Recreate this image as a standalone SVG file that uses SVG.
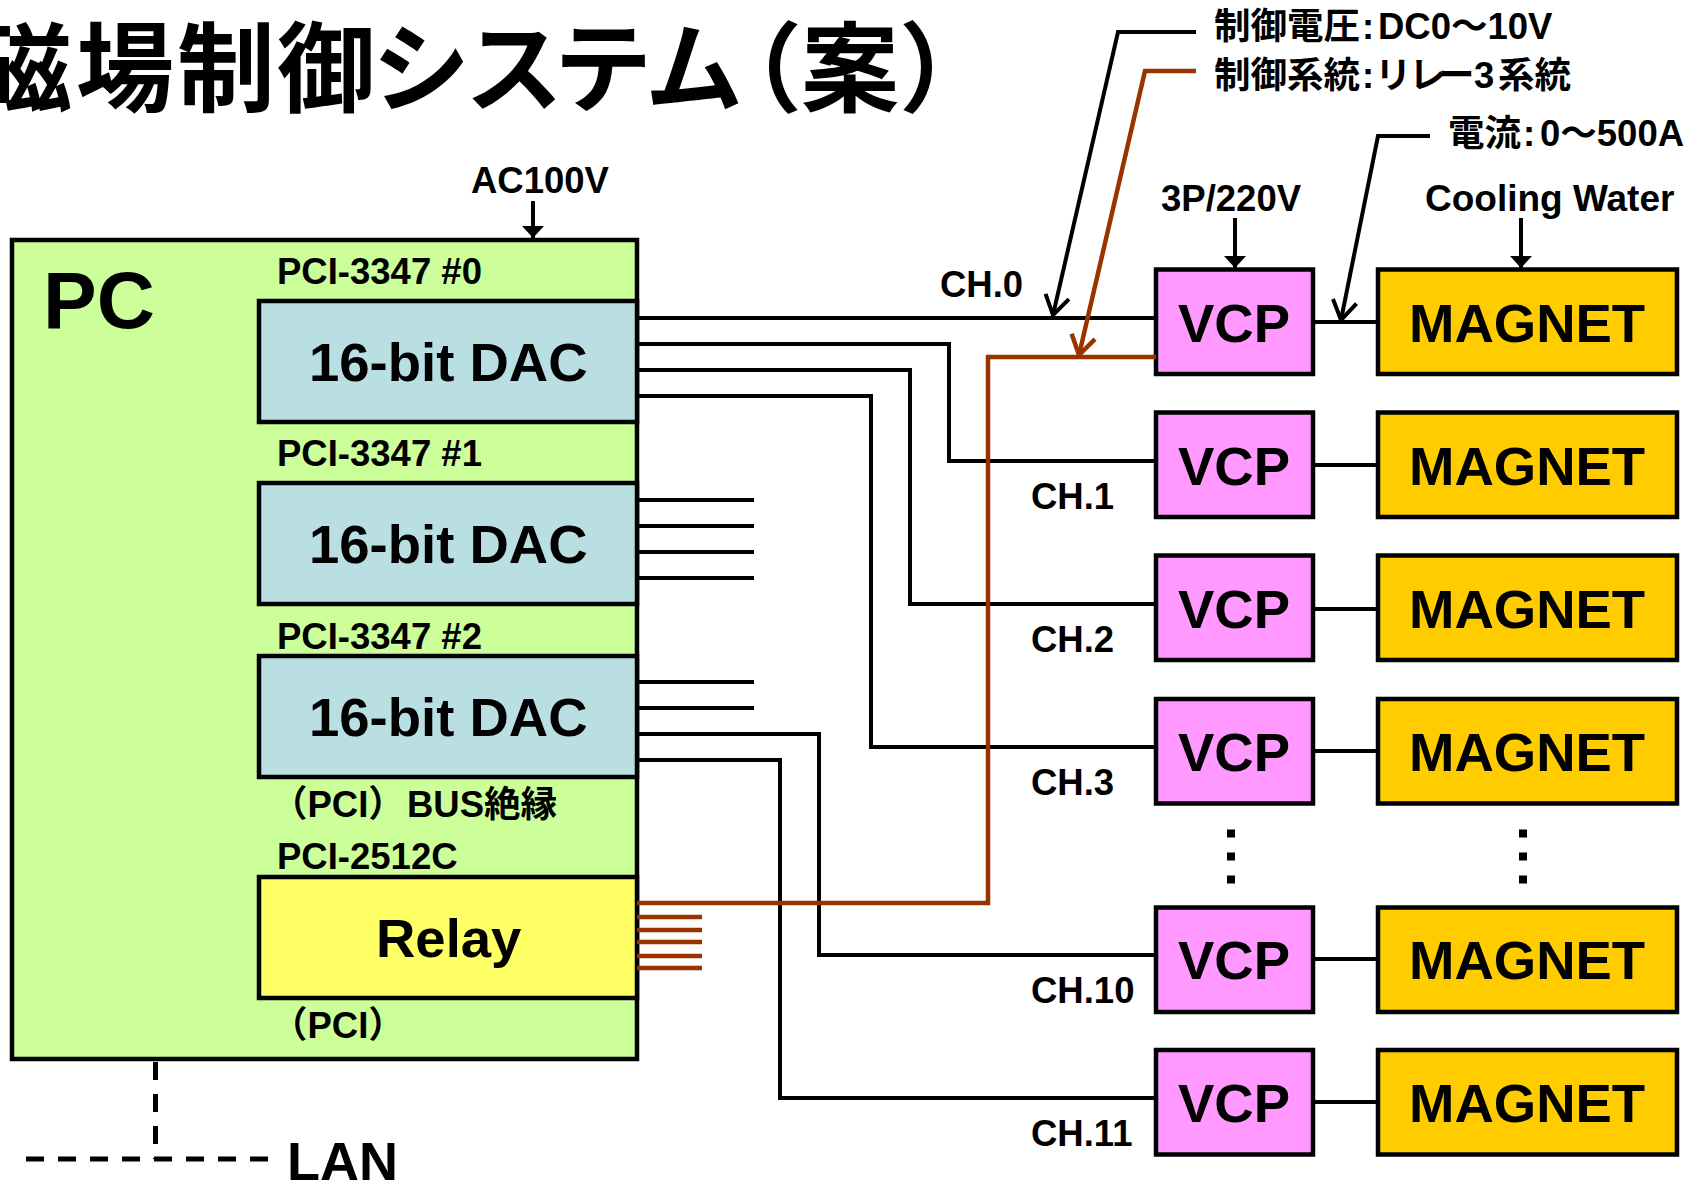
<svg xmlns="http://www.w3.org/2000/svg" width="1698" height="1184" viewBox="0 0 1698 1184">
<style>
text{font-family:"Liberation Sans","Noto Sans CJK JP",sans-serif;font-weight:700;fill:#000}
.s{font-size:36.5px}
.l{font-size:54.5px}
.box{stroke:#000;stroke-width:4.5}
.pc{fill:#CCFF99}.dac{fill:#B9DFE3}.relay{fill:#FFFF66}.vcp{fill:#FF99FF}.mag{fill:#FFCC00}
.w{fill:none;stroke:#000;stroke-width:4}
.r{fill:none;stroke:#993300;stroke-width:4.5}
.in{marker-end:url(#tri)}
.d{fill:none;stroke:#000;stroke-width:5;stroke-dasharray:18 14}
.dot{fill:#000}
</style>
<defs>
<marker id="tri" markerUnits="userSpaceOnUse" markerWidth="24" markerHeight="22" refX="12" refY="11" orient="auto"><path d="M0 0L12 11L0 22Z" fill="#000"/></marker>
<marker id="openK" markerUnits="userSpaceOnUse" markerWidth="26" markerHeight="32" refX="22" refY="16" orient="auto"><path d="M3 4L22 16L3 28" fill="none" stroke="#000" stroke-width="4"/></marker>
<marker id="openR" markerUnits="userSpaceOnUse" markerWidth="26" markerHeight="32" refX="22" refY="16" orient="auto"><path d="M3 4L22 16L3 28" fill="none" stroke="#993300" stroke-width="4.5"/></marker>
</defs>
<rect width="1698" height="1184" fill="#fff"/>
<text id="title" x="-26 76 177 277 372 465 554 645 704 801 899" y="104" font-size="98">磁場制御システム（案）</text>

<g id="pc"><rect class="box pc" x="12" y="240" width="625" height="819"/><text x="43" y="328" font-size="80.5">PC</text></g>
<g id="dac0"><text class="s" x="277" y="284">PCI-3347 #0</text><rect class="box dac" x="259" y="301" width="378" height="121"/><text class="l" x="309" y="381">16-bit DAC</text></g>
<g id="dac1"><text class="s" x="277" y="466">PCI-3347 #1</text><rect class="box dac" x="259" y="483" width="378" height="121"/><text class="l" x="309" y="563">16-bit DAC</text></g>
<g id="dac2"><text class="s" x="277" y="649">PCI-3347 #2</text><rect class="box dac" x="259" y="656" width="378" height="121"/><text class="l" x="309" y="736">16-bit DAC</text><text class="s" x="271" y="817">（PCI）<tspan x="407">BUS絶縁</tspan></text></g>
<g id="relay"><text class="s" x="277" y="869">PCI-2512C</text><rect class="box relay" x="259" y="877" width="378" height="121"/><text class="l" x="376" y="957">Relay</text><text class="s" x="271" y="1038">（PCI）</text></g>

<g id="vcp0"><rect class="box vcp" x="1156" y="269.5" width="157" height="104.5"/><text class="l" x="1178" y="342">VCP</text></g>
<g id="vcp1"><rect class="box vcp" x="1156" y="412.5" width="157" height="104.5"/><text class="l" x="1178" y="485">VCP</text></g>
<g id="vcp2"><rect class="box vcp" x="1156" y="555.5" width="157" height="104.5"/><text class="l" x="1178" y="628">VCP</text></g>
<g id="vcp3"><rect class="box vcp" x="1156" y="699" width="157" height="104.5"/><text class="l" x="1178" y="771">VCP</text></g>
<g id="vcp10"><rect class="box vcp" x="1156" y="907.5" width="157" height="104.5"/><text class="l" x="1178" y="979">VCP</text></g>
<g id="vcp11"><rect class="box vcp" x="1156" y="1050" width="157" height="104.5"/><text class="l" x="1178" y="1122">VCP</text></g>

<g id="mag0"><rect class="box mag" x="1378" y="269.5" width="299" height="104.5"/><text class="l" x="1409" y="342">MAGNET</text></g>
<g id="mag1"><rect class="box mag" x="1378" y="412.5" width="299" height="104.5"/><text class="l" x="1409" y="485">MAGNET</text></g>
<g id="mag2"><rect class="box mag" x="1378" y="555.5" width="299" height="104.5"/><text class="l" x="1409" y="628">MAGNET</text></g>
<g id="mag3"><rect class="box mag" x="1378" y="699" width="299" height="104.5"/><text class="l" x="1409" y="771">MAGNET</text></g>
<g id="mag10"><rect class="box mag" x="1378" y="907.5" width="299" height="104.5"/><text class="l" x="1409" y="979">MAGNET</text></g>
<g id="mag11"><rect class="box mag" x="1378" y="1050" width="299" height="104.5"/><text class="l" x="1409" y="1122">MAGNET</text></g>

<g id="labels">
<text class="s" x="471" y="193">AC100V</text>
<text class="s" x="1161" y="211">3P/220V</text>
<text class="s" x="1425" y="211" font-size="37" style="font-size:37px">Cooling Water</text>
<text class="s" x="1214" y="39">制御電圧<tspan x="1362">:</tspan><tspan x="1378">DC0〜10V</tspan></text>
<text class="s" x="1214" y="88">制御系統<tspan x="1362">:</tspan><tspan x="1375 1409 1438">リレー</tspan><tspan x="1474">3</tspan><tspan x="1498">系統</tspan></text>
<text class="s" x="1448" y="146">電流<tspan x="1523">:</tspan><tspan x="1540">0〜500A</tspan></text>
<text class="s" x="940" y="297">CH.0</text>
<text class="s" x="1031" y="509">CH.1</text>
<text class="s" x="1031" y="652">CH.2</text>
<text class="s" x="1031" y="795">CH.3</text>
<text class="s" x="1031" y="1003">CH.10</text>
<text class="s" x="1031" y="1146">CH.11</text>
<text x="287" y="1180" font-size="54">LAN</text>
</g>

<g id="connectors">
<path class="w" d="M637 318H1156"/>
<path class="w" d="M637 344H949V461H1156"/>
<path class="w" d="M637 370H910V604H1156"/>
<path class="w" d="M637 396H871V747H1156"/>
<path class="w" d="M637 734H819V955H1156"/>
<path class="w" d="M637 760H780V1098H1156"/>
<path class="w" d="M637 500H754M637 526H754M637 552H754M637 578H754M637 682H754M637 708H754"/>
<path class="w" d="M1314 322H1378M1314 465H1378M1314 609H1378M1314 751H1378M1314 959H1378M1314 1102H1378"/>
<path class="r" d="M637 903H988V357H1156"/>
<path class="r" d="M637 917H702M637 930H702M637 942H702M637 956H702M637 968H702"/>
<path class="w" marker-end="url(#openK)" d="M1196 32H1118L1053 315"/>
<path class="r" marker-end="url(#openR)" d="M1196 71H1145L1079 355"/>
<path class="w" marker-end="url(#openK)" d="M1430 136H1378L1341 320"/>
<path class="w in" d="M533 201V238"/>
<path class="w in" d="M1235 218V268"/>
<path class="w in" d="M1521 218V268"/>
<path class="d" d="M155.500 1062V1159"/>
<path class="d" d="M26 1159H268"/>
<rect class="dot" x="1227" y="829.500" width="8" height="8"/><rect class="dot" x="1227" y="852.500" width="8" height="8"/><rect class="dot" x="1227" y="875.500" width="8" height="8"/>
<rect class="dot" x="1519" y="829.500" width="8" height="8"/><rect class="dot" x="1519" y="852.500" width="8" height="8"/><rect class="dot" x="1519" y="875.500" width="8" height="8"/>
</g>
</svg>
